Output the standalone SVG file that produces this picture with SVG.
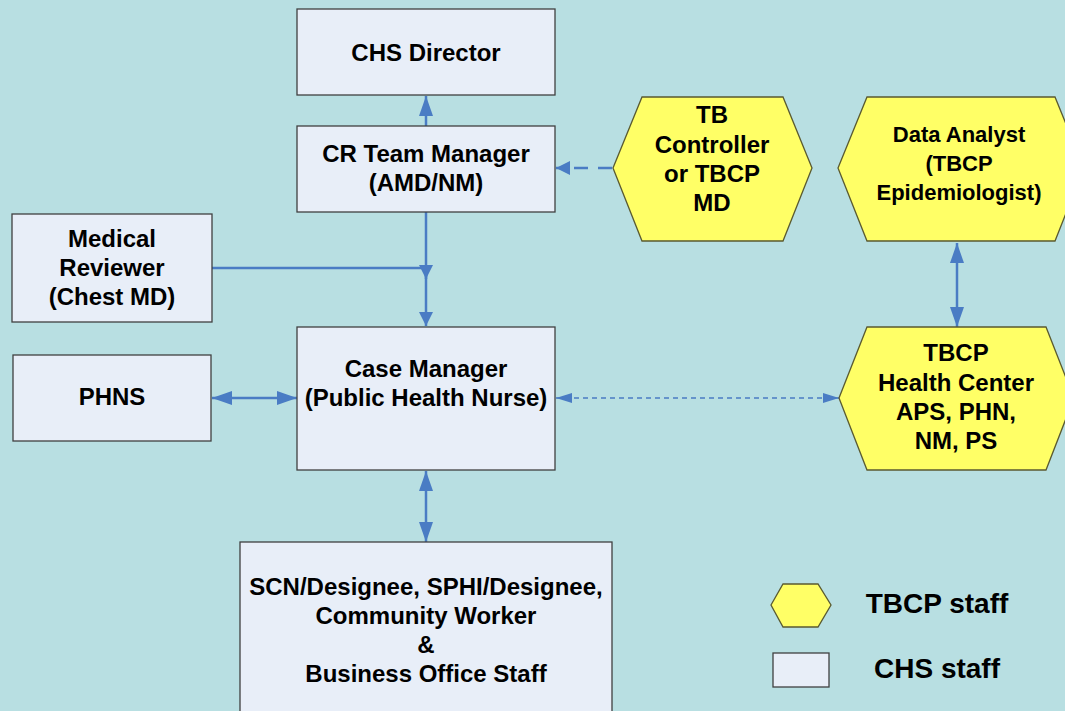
<svg xmlns="http://www.w3.org/2000/svg" width="1065" height="711" viewBox="0 0 1065 711">
<defs>
<style>
.box{fill:#E8EEF8;stroke:#404040;stroke-width:1.3}
.hex{fill:#FFFF66;stroke:#5A5A30;stroke-width:1.3}
text{font-family:"Liberation Sans",Arial,sans-serif;font-weight:bold;fill:#000;text-anchor:middle}
.t24{font-size:24px}
.t22{font-size:22px}
.t28{font-size:28px}
.ln{stroke:#4A7CC4;stroke-width:2.5;fill:none}
.dash{stroke-dasharray:14 10}
.thin{stroke:#4A7CC4;stroke-width:1.5;fill:none;stroke-dasharray:5 4}
</style>
<marker id="ah" markerUnits="userSpaceOnUse" markerWidth="20" markerHeight="14" refX="20" refY="7" orient="auto-start-reverse"><path d="M0,0 L20,7 L0,14 Z" fill="#4A7CC4"/></marker>
<marker id="ahs" markerUnits="userSpaceOnUse" markerWidth="14" markerHeight="14" refX="14" refY="7" orient="auto-start-reverse"><path d="M0,0 L14,7 L0,14 Z" fill="#4A7CC4"/></marker>
<marker id="aht" markerUnits="userSpaceOnUse" markerWidth="16" markerHeight="10" refX="16" refY="5" orient="auto-start-reverse"><path d="M0,0 L16,5 L0,10 Z" fill="#4A7CC4"/></marker>
</defs>
<rect width="1065" height="711" fill="#B8DFE2"/>
<g id="connectors">
<line class="ln" x1="426" y1="126" x2="426" y2="96" marker-end="url(#ah)"/>
<line class="ln dash" x1="612" y1="168" x2="556" y2="168" marker-end="url(#ahs)"/>
<line class="ln" x1="426" y1="212" x2="426" y2="279" marker-end="url(#ahs)"/>
<line class="ln" x1="426" y1="272" x2="426" y2="326" marker-end="url(#ahs)"/>
<line class="ln" x1="212" y1="268" x2="426" y2="268"/>
<line class="ln" x1="212" y1="398" x2="297" y2="398" marker-start="url(#ah)" marker-end="url(#ah)"/>
<line class="thin" x1="556" y1="398" x2="839" y2="398" marker-start="url(#aht)" marker-end="url(#aht)"/>
<line class="ln" x1="957" y1="243" x2="957" y2="327" marker-start="url(#ah)" marker-end="url(#ah)"/>
<line class="ln" x1="426" y1="471" x2="426" y2="542" marker-start="url(#ah)" marker-end="url(#ah)"/>
</g>
<g id="chs-director">
<rect class="box" x="297" y="9" width="258" height="86"/>
<text class="t24" x="426" y="61">CHS Director</text>
</g>
<g id="cr-team-manager">
<rect class="box" x="297" y="126" width="258" height="86"/>
<text class="t24" x="426" y="162">CR Team Manager</text>
<text class="t24" x="426" y="191">(AMD/NM)</text>
</g>
<g id="tb-controller">
<polygon class="hex" points="613,168 642,97 783,97 812,168 783,241 642,241"/>
<text class="t24" x="712" y="123">TB</text>
<text class="t24" x="712" y="153">Controller</text>
<text class="t24" x="712" y="182">or TBCP</text>
<text class="t24" x="712" y="211">MD</text>
</g>
<g id="data-analyst">
<polygon class="hex" points="838,168 867,97 1055,97 1084,168 1055,241 867,241"/>
<text class="t22" x="959" y="142">Data Analyst</text>
<text class="t22" x="959" y="171">(TBCP</text>
<text class="t22" x="959" y="200">Epidemiologist)</text>
</g>
<g id="medical-reviewer">
<rect class="box" x="12" y="214" width="200" height="108"/>
<text class="t24" x="112" y="247">Medical</text>
<text class="t24" x="112" y="276">Reviewer</text>
<text class="t24" x="112" y="305">(Chest MD)</text>
</g>
<g id="phns">
<rect class="box" x="13" y="355" width="198" height="86"/>
<text class="t24" x="112" y="405">PHNS</text>
</g>
<g id="case-manager">
<rect class="box" x="297" y="327" width="258" height="143"/>
<text class="t24" x="426" y="377">Case Manager</text>
<text class="t24" x="426" y="406">(Public Health Nurse)</text>
</g>
<g id="tbcp-health-center">
<polygon class="hex" points="839,398 867,327 1046,327 1074,398 1046,470 867,470"/>
<text class="t24" x="956" y="361">TBCP</text>
<text class="t24" x="956" y="391">Health Center</text>
<text class="t24" x="956" y="420">APS, PHN,</text>
<text class="t24" x="956" y="449">NM, PS</text>
</g>
<g id="support-staff">
<rect class="box" x="240" y="542" width="372" height="190"/>
<text class="t24" x="426" y="595">SCN/Designee, SPHI/Designee,</text>
<text class="t24" x="426" y="624">Community Worker</text>
<text class="t24" x="426" y="653">&amp;</text>
<text class="t24" x="426" y="682">Business Office Staff</text>
</g>
<g id="legend">
<polygon class="hex" points="771,605 783,584 818,584 831,605 818,627 783,627"/>
<text class="t28" x="937" y="613">TBCP staff</text>
<rect class="box" x="773" y="653" width="56" height="34"/>
<text class="t28" x="937" y="678">CHS staff</text>
</g>
</svg>
